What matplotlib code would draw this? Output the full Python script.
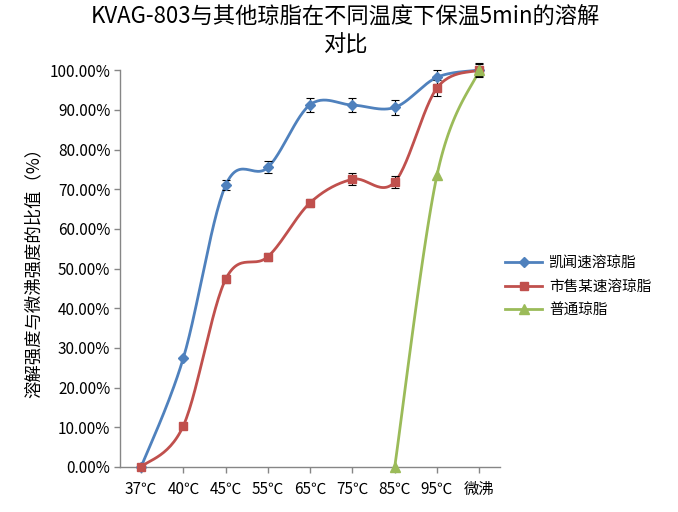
import numpy as np
import matplotlib
matplotlib.use("Agg")
import matplotlib.pyplot as plt
from matplotlib.ticker import PercentFormatter

plt.rcParams['font.family'] = ['Noto Sans CJK SC', 'DejaVu Sans']

# data
categories = ["37℃", "40℃", "45℃", "55℃", "65℃", "75℃", "85℃", "95℃", "微沸"]
series_names = ["凯闻速溶琼脂", "市售某速溶琼脂", "普通琼脂"]

kaiwen = [0.0, 27.5, 71.0, 75.5, 91.3, 91.2, 90.6, 98.2, 100.0]
kaiwen_err = [0.0, 0.0, 1.3, 1.5, 1.8, 1.8, 1.8, 1.8, 1.5]

market = [0.0, 10.4, 47.3, 53.0, 66.6, 72.5, 71.8, 95.5, 100.0]
market_err = [0.0, 0.0, 1.0, 1.0, 1.0, 1.5, 1.6, 2.0, 1.8]

normal_start = 6
normal = [0.0, 73.5, 100.0]

colors = ["#4F81BD", "#C0504D", "#9BBB59"]
markers = ["D", "s", "^"]
axis_gray = "#868686"


def smooth(x, y, n=30):
    """Excel-style smoothed line (cardinal bezier through the points)."""
    x = np.asarray(x, float)
    y = np.asarray(y, float)
    px, py = [], []
    for i in range(len(x) - 1):
        x0, y0 = (x[i - 1], y[i - 1]) if i > 0 else (x[i], y[i])
        x3, y3 = (x[i + 2], y[i + 2]) if i + 2 < len(x) else (x[i + 1], y[i + 1])
        x1, y1 = x[i], y[i]
        x2, y2 = x[i + 1], y[i + 1]
        c1x, c1y = x1 + (x2 - x0) / 6, y1 + (y2 - y0) / 6
        c2x, c2y = x2 - (x3 - x1) / 6, y2 - (y3 - y1) / 6
        t = np.linspace(0, 1, n)
        bx = (1-t)**3*x1 + 3*(1-t)**2*t*c1x + 3*(1-t)*t**2*c2x + t**3*x2
        by = (1-t)**3*y1 + 3*(1-t)**2*t*c1y + 3*(1-t)*t**2*c2y + t**3*y2
        px.extend(bx)
        py.extend(by)
    return np.array(px), np.array(py)


fig = plt.figure(figsize=(6.78, 5.12), dpi=100)
ax = fig.add_axes([0.177, 0.088, 0.561, 0.775])

xs = np.arange(len(categories))
all_y = [np.array(kaiwen) / 100, np.array(market) / 100, np.array(normal) / 100]
all_x = [xs, xs, xs[normal_start:]]
errs = [np.array(kaiwen_err) / 100, np.array(market_err) / 100, None]

handles = []
for k in range(3):
    sx, sy = smooth(all_x[k], all_y[k])
    ax.plot(sx, sy, color=colors[k], lw=2.0, zorder=3, clip_on=False)
    if errs[k] is not None:
        m = errs[k] > 0
        ax.errorbar(all_x[k][m], all_y[k][m], yerr=errs[k][m], fmt='none',
                    ecolor='black', elinewidth=0.8, capsize=3, capthick=0.8,
                    zorder=4, clip_on=False)
    ms = 5.5 if markers[k] != "^" else 6.5
    ax.plot(all_x[k], all_y[k], linestyle='none', marker=markers[k], ms=ms,
            color=colors[k], zorder=5, clip_on=False)
    h, = ax.plot([], [], color=colors[k], lw=2.0, marker=markers[k], ms=ms)
    handles.append(h)

ax.set_xlim(-0.5, len(categories) - 0.5)
ax.set_ylim(0, 1.0)
ax.set_yticks(np.arange(0, 1.01, 0.1))
ax.yaxis.set_major_formatter(PercentFormatter(1.0, decimals=2))
ax.set_xticks(xs)
ax.set_xticklabels(categories)

for side in ["top", "right"]:
    ax.spines[side].set_visible(False)
for side in ["left", "bottom"]:
    ax.spines[side].set_color(axis_gray)
    ax.spines[side].set_linewidth(1.0)
ax.tick_params(axis='both', colors=axis_gray, length=4, width=1.0,
               labelcolor='black')
ax.tick_params(axis='y', labelsize=11, pad=3)
ax.tick_params(axis='x', labelsize=11, pad=6)

ax.set_ylabel("溶解强度与微沸强度的比值（%）", fontsize=12.5, labelpad=5)

fig.text(0.51, 0.99, "KVAG-803与其他琼脂在不同温度下保温5min的溶解\n对比",
         ha='center', va='top', fontsize=16, linespacing=1.3)

fig.legend(handles, series_names, loc='center left',
           bbox_to_anchor=(0.726, 0.44), frameon=False, fontsize=10.5,
           handlelength=2.5, labelspacing=0.65, handletextpad=0.5)

fig.savefig("out.png", dpi=100)
